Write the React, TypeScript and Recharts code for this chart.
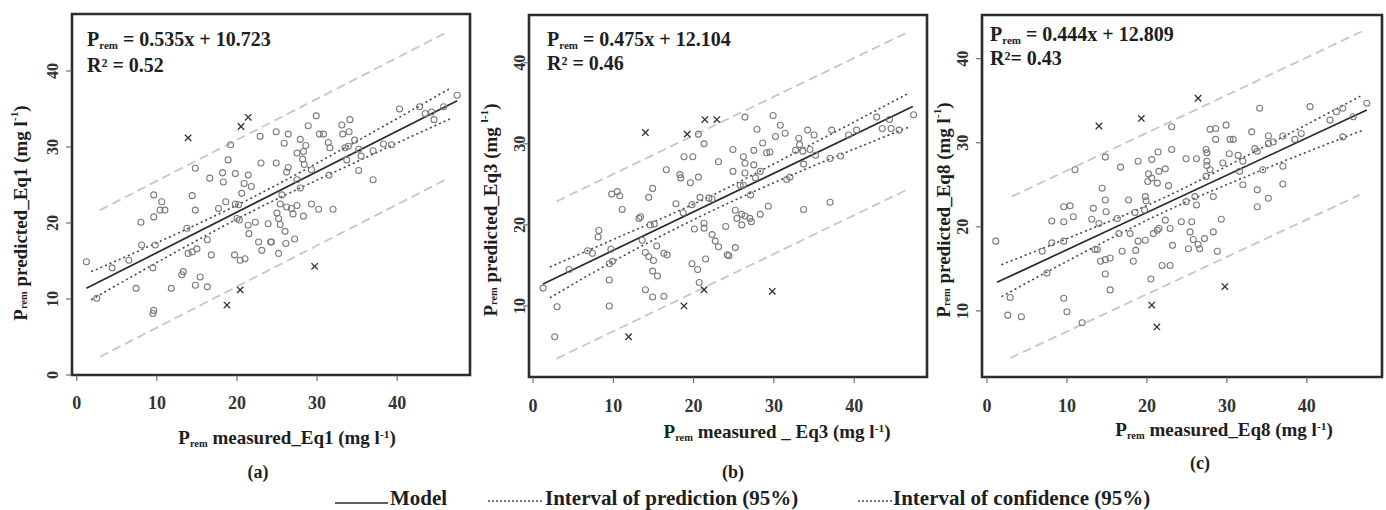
import React from 'react';
import { ComposedChart, Scatter, Line, XAxis, YAxis, ReferenceArea } from 'recharts';

type Pt = [number, number];

const xTicks = [0, 10, 20, 30, 40];
const yTicksA = [0, 10, 20, 30, 40];
const yTicksBC = [10, 20, 30, 40];

// panel (a) Eq1
const circlesA: Pt[] = [
  [1.2, 14.9], [4.4, 14.1], [2.5, 10.1], [6.5, 15.1], [8.1, 17.1], [9.8, 17.1], [9.5, 14.1], [7.4, 11.4],
  [9.5, 8.1], [9.6, 8.5], [8.0, 20.1], [9.6, 20.8], [9.6, 23.7], [10.6, 22.8], [10.4, 21.7], [11.0, 21.7],
  [11.8, 11.4], [13.1, 13.2], [13.3, 13.6], [13.9, 16.0], [14.4, 16.2], [15.0, 16.6], [13.75, 19.3],
  [14.8, 27.2], [14.4, 23.6], [14.8, 21.7], [14.8, 11.8], [16.3, 11.6], [15.4, 12.9], [16.3, 17.8],
  [16.8, 15.8], [16.6, 25.9], [17.7, 21.9], [18.3, 25.4], [18.2, 26.6], [18.9, 28.3], [19.2, 30.3],
  [18.6, 22.8], [19.8, 26.5], [19.8, 22.5], [20.2, 22.4], [20.6, 23.9], [20.0, 20.6], [20.3, 20.4],
  [19.7, 15.8], [20.4, 15.1], [21.0, 15.3], [21.4, 26.3], [20.9, 25.2], [21.8, 24.8], [21.4, 19.7],
  [21.5, 18.6], [22.3, 20.1], [22.7, 17.5], [23.1, 16.4], [23.9, 19.9], [24.2, 17.5], [22.9, 31.4],
  [23.0, 27.9], [24.9, 32.0], [26.4, 31.7], [25.9, 30.5], [27.9, 31.0], [24.9, 27.9], [26.4, 27.3],
  [26.2, 26.7], [27.5, 29.2], [28.3, 29.4], [28.6, 30.2], [28.2, 28.4], [28.4, 27.7], [27.5, 25.7],
  [27.9, 24.6], [29.3, 27.0], [28.9, 32.8], [29.9, 34.1], [30.3, 31.7], [30.8, 31.7], [31.4, 30.6],
  [31.6, 29.9], [31.5, 26.3], [33.1, 32.9], [34.1, 33.6], [33.2, 31.7], [34.0, 32.0], [33.5, 29.9],
  [33.9, 30.1], [34.7, 30.9], [33.7, 28.3], [35.2, 29.7], [35.5, 28.8], [35.2, 26.9], [37.0, 25.7],
  [37.0, 29.5], [38.3, 30.4], [39.3, 30.3], [40.3, 35.0], [42.8, 35.3], [43.5, 34.4], [44.3, 34.6],
  [44.6, 33.6], [45.8, 35.3], [47.5, 36.8], [25.6, 23.7], [25.4, 22.5], [26.2, 22.1], [26.8, 21.9],
  [27.5, 22.3], [25.0, 21.3], [25.2, 20.6], [25.4, 19.8], [27.0, 21.2], [28.3, 20.9], [29.3, 22.5],
  [30.2, 21.8], [32.0, 21.8], [26.0, 18.9], [24.3, 17.5], [26.1, 17.3], [27.2, 17.9], [25.2, 16.0],
];
const crossesA: Pt[] = [[13.9, 31.2], [20.5, 32.7], [21.4, 33.9], [18.75, 9.2], [20.4, 11.2], [29.7, 14.3]];
const modelA: Pt[] = [[1.2, 11.4], [47.5, 36.1]];
const predUpA: Pt[] = [[2.9, 21.7], [46.4, 45.2]];
const predLoA: Pt[] = [[2.9, 2.4], [46.4, 25.9]];
const confUpA: Pt[] = [[1.8, 13.6], [10, 17.4], [22, 23.4], [34, 30.2], [46.6, 37.7]];
const confLoA: Pt[] = [[1.8, 9.9], [10, 14.8], [22, 21.6], [34, 27.6], [46.6, 33.7]];

// panel (b) Eq3
const circlesB: Pt[] = [
  [1.25, 12.2], [3.0, 9.9], [2.7, 6.2], [4.5, 14.5], [6.8, 16.8], [7.4, 16.5], [9.7, 17.0], [8.2, 19.3],
  [8.1, 18.5], [9.9, 15.5], [9.5, 15.2], [9.5, 13.2], [9.5, 10.0], [9.8, 23.8], [10.5, 24.1], [10.8, 23.6],
  [11.1, 21.9], [13.2, 20.8], [13.4, 21.0], [14.4, 23.4], [14.9, 24.5], [13.6, 18.1], [14.6, 20.0],
  [15.1, 20.1], [14.0, 16.6], [14.4, 16.1], [15.0, 15.6], [15.4, 17.4], [14.9, 14.3], [15.5, 13.7],
  [14.0, 12.0], [14.9, 11.1], [16.3, 11.2], [16.3, 16.5], [16.7, 16.3], [16.6, 26.8], [17.8, 22.6],
  [18.3, 26.2], [18.4, 25.8], [18.8, 28.4], [19.9, 28.4], [19.6, 25.2], [20.6, 25.9], [20.6, 31.2],
  [21.3, 30.0], [23.1, 27.8], [18.7, 21.5], [19.8, 22.5], [20.8, 23.4], [21.9, 23.3], [22.3, 23.2],
  [20.1, 19.5], [21.3, 20.2], [21.3, 19.6], [22.3, 18.8], [22.7, 18.0], [23.1, 17.3], [21.5, 15.8],
  [24.0, 19.8], [24.2, 16.3], [19.8, 15.2], [20.5, 14.5], [20.7, 12.9], [26.4, 33.3], [29.9, 33.5],
  [30.8, 32.3], [27.9, 31.8], [24.9, 29.3], [26.2, 28.4], [26.4, 27.6], [27.5, 29.2], [28.6, 30.1],
  [29.1, 28.9], [29.5, 29.0], [30.2, 30.9], [31.4, 31.3], [27.5, 27.4], [24.9, 26.6], [26.4, 26.4],
  [28.3, 26.6], [27.7, 25.8], [25.8, 24.9], [26.2, 24.9], [27.1, 23.7], [33.1, 30.7], [33.2, 29.9],
  [34.2, 31.7], [35.0, 31.1], [32.7, 29.2], [33.6, 29.1], [34.5, 29.3], [35.2, 28.6], [33.7, 27.5],
  [31.6, 25.6], [32.0, 25.9], [37.2, 31.7], [37.0, 28.2], [38.3, 28.5], [39.3, 31.1], [40.3, 31.7],
  [42.8, 33.3], [43.5, 31.9], [44.6, 31.9], [45.6, 31.7], [44.4, 33.0], [47.4, 33.6], [25.2, 21.8],
  [25.4, 20.8], [26.0, 21.3], [26.4, 21.1], [27.0, 20.8], [27.2, 20.4], [26.0, 20.0], [28.3, 21.3],
  [29.3, 22.3], [33.7, 21.9], [37.0, 22.8], [25.2, 17.2], [24.4, 16.2],
];
const crossesB: Pt[] = [[11.9, 6.2], [14.0, 31.4], [19.2, 31.2], [21.4, 33.0], [22.9, 33.0], [21.3, 12.0], [18.8, 10.0], [29.8, 11.8]];
const modelB: Pt[] = [[1.25, 12.7], [47.3, 34.6]];
const predUpB: Pt[] = [[2.95, 22.9], [46.5, 43.7]];
const predLoB: Pt[] = [[2.95, 3.5], [46.5, 24.3]];
const confUpB: Pt[] = [[2.1, 14.8], [10, 18.2], [22, 23.5], [34, 29.6], [46.9, 36.3]];
const confLoB: Pt[] = [[2.1, 11.0], [10, 15.5], [22, 21.6], [34, 26.9], [46.9, 32.1]];

// panel (c) Eq8
const circlesC: Pt[] = [
  [1.1, 18.3], [2.6, 9.5], [4.3, 9.3], [2.9, 11.6], [7.5, 14.5], [6.9, 17.1], [8.1, 18.1], [8.1, 20.7],
  [9.6, 20.6], [9.6, 22.4], [10.4, 22.5], [10.8, 21.2], [9.6, 18.3], [9.6, 11.5], [10.0, 9.9], [11.9, 8.6],
  [11.0, 26.8], [13.1, 20.9], [14.0, 20.4], [13.3, 22.2], [14.4, 24.6], [14.8, 23.2], [14.9, 21.8],
  [14.8, 28.3], [13.5, 17.3], [13.8, 17.3], [14.2, 15.9], [14.8, 16.1], [15.4, 16.3], [14.8, 14.4],
  [15.4, 12.5], [16.3, 21.0], [16.5, 19.2], [16.7, 27.1], [16.9, 17.1], [17.7, 23.2], [18.5, 21.7],
  [17.9, 19.2], [18.6, 17.2], [18.9, 18.3], [18.3, 15.9], [18.9, 27.8], [19.8, 23.6], [19.9, 23.1],
  [19.8, 18.4], [20.1, 25.4], [20.2, 26.3], [20.6, 25.8], [20.6, 28.0], [21.4, 28.9], [21.3, 25.2],
  [21.5, 26.6], [22.3, 26.9], [22.7, 24.9], [23.1, 31.9], [23.1, 29.2], [20.8, 19.2], [21.3, 19.6],
  [21.5, 19.8], [22.3, 20.8], [22.9, 19.8], [23.2, 17.8], [21.9, 15.4], [22.9, 15.4], [20.5, 13.8],
  [19.7, 22.0], [34.1, 34.1], [40.4, 34.3], [27.9, 31.6], [28.6, 31.7], [29.9, 32.1], [33.1, 31.3],
  [28.6, 30.4], [30.4, 30.4], [30.8, 30.4], [35.2, 30.8], [27.4, 29.2], [27.5, 28.8], [24.9, 28.1],
  [26.2, 28.1], [27.5, 27.8], [27.5, 27.3], [29.5, 27.6], [30.3, 28.7], [31.4, 28.5], [32.0, 27.8],
  [33.5, 29.3], [33.8, 29.0], [35.2, 29.9], [35.8, 30.1], [37.0, 30.8], [38.5, 30.4], [39.3, 31.1],
  [42.9, 32.7], [43.7, 33.7], [44.5, 34.1], [47.5, 34.7], [45.8, 33.1], [44.5, 30.7], [27.9, 26.8],
  [31.6, 26.6], [34.5, 26.8], [37.0, 27.2], [27.4, 26.0], [32.0, 25.0], [33.8, 24.4], [37.0, 25.1],
  [35.2, 23.4], [33.8, 22.4], [24.9, 23.0], [26.0, 23.6], [26.2, 22.6], [28.3, 23.6], [24.3, 20.6],
  [25.6, 20.6], [29.3, 20.9], [25.4, 19.4], [28.3, 19.4], [25.8, 18.5], [26.4, 17.9], [26.6, 17.4],
  [27.2, 18.6], [25.2, 17.4], [28.8, 17.1],
];
const crossesC: Pt[] = [[14.0, 32.0], [19.3, 32.9], [20.6, 10.7], [21.25, 8.1], [26.4, 35.3], [29.75, 12.9]];
const modelC: Pt[] = [[1.25, 13.4], [47.5, 33.9]];
const predUpC: Pt[] = [[3.1, 23.6], [47.0, 43.3]];
const predLoC: Pt[] = [[2.9, 4.4], [46.6, 23.8]];
const confUpC: Pt[] = [[1.8, 15.5], [10, 18.6], [22, 23.4], [34, 29.2], [47.0, 35.7]];
const confLoC: Pt[] = [[1.8, 11.7], [10, 15.9], [22, 21.7], [34, 26.6], [47.0, 31.5]];

const toObj = (pts: Pt[]) => pts.map(([x, y]) => ({ x, y }));

const FONT = '"Liberation Serif", "Times New Roman", serif';
const INK = '#1e1e1e';

const panels = [
  {
    key: 'a', left: 0, width: 480, yAxisWidth: 72, right: 10, top: 14, bottom: 15,
    xDomain: [-0.6, 49.1], yDomain: [0, 47.5], yTicks: yTicksA, yTickX: 52, xTickY: 403,
    circles: circlesA, crosses: crossesA, model: modelA, predUp: predUpA, predLo: predLoA, confUp: confUpA, confLo: confLoA,
  },
  {
    key: 'b', left: 480, width: 457, yAxisWidth: 49, right: 10, top: 15, bottom: 13,
    xDomain: [-0.5, 49.07], yDomain: [1.23, 45.9], yTicks: yTicksBC, yTickX: 40, xTickY: 406,
    circles: circlesB, crosses: crossesB, model: modelB, predUp: predUpB, predLo: predLoB, confUp: confUpB, confLo: confLoB,
  },
  {
    key: 'c', left: 937, width: 449, yAxisWidth: 45, right: 4, top: 15, bottom: 13,
    xDomain: [-0.625, 49.4], yDomain: [2.14, 45.2], yTicks: yTicksBC, yTickX: 26, xTickY: 406,
    circles: circlesC, crosses: crossesC, model: modelC, predUp: predUpC, predLo: predLoC, confUp: confUpC, confLo: confLoC,
  },
];

const CircleMark = (props: any) => (
  <circle cx={props.cx} cy={props.cy} r={3} fill="none" stroke="#7c7c7c" strokeWidth={1.1} />
);

const CrossMark = (props: any) => {
  const { cx, cy } = props;
  const s = 3.2;
  return (
    <g stroke="#333" strokeWidth={1.3}>
      <line x1={cx - s} y1={cy - s} x2={cx + s} y2={cy + s} />
      <line x1={cx - s} y1={cy + s} x2={cx + s} y2={cy - s} />
    </g>
  );
};

function Panel({ p }: { p: any }) {
  return (
    <div style={{ position: 'absolute', left: p.left, top: 0 }}>
      <ComposedChart width={p.width} height={420} margin={{ top: p.top, right: p.right, bottom: p.bottom, left: 0 }}>
        <XAxis
          type="number"
          dataKey="x"
          domain={p.xDomain}
          ticks={xTicks}
          interval={0}
          allowDataOverflow
          axisLine={false}
          tickLine={{ stroke: '#555' }}
          tickSize={6}
          height={30}
          tick={(t: any) => (
            <text x={t.x} y={p.xTickY} textAnchor="middle" dominantBaseline="central"
              fontFamily={FONT} fontWeight="bold" fontSize={18} fill="#333">
              {t.payload.value}
            </text>
          )}
        />
        <YAxis
          type="number"
          dataKey="y"
          domain={p.yDomain}
          ticks={p.yTicks}
          interval={0}
          allowDataOverflow
          axisLine={false}
          tickLine={{ stroke: '#555' }}
          tickSize={6}
          width={p.yAxisWidth}
          tick={(t: any) => (
            <text x={p.yTickX} y={t.y} transform={`rotate(-90 ${p.yTickX} ${t.y})`} textAnchor="middle"
              dominantBaseline="central" fontFamily={FONT} fontWeight="bold" fontSize={16} fill="#333">
              {t.payload.value}
            </text>
          )}
        />
        <Line data={toObj(p.predUp)} dataKey="y" type="linear" stroke="#c6c6c6" strokeWidth={1.8}
          strokeDasharray="9 5" dot={false} activeDot={false} isAnimationActive={false} />
        <Line data={toObj(p.predLo)} dataKey="y" type="linear" stroke="#c6c6c6" strokeWidth={1.8}
          strokeDasharray="9 5" dot={false} activeDot={false} isAnimationActive={false} />
        <Scatter data={toObj(p.circles)} dataKey="y" shape={CircleMark} isAnimationActive={false} />
        <Scatter data={toObj(p.crosses)} dataKey="y" shape={CrossMark} isAnimationActive={false} />
        <Line data={toObj(p.model)} dataKey="y" type="linear" stroke="#2a2a2a" strokeWidth={1.7}
          dot={false} activeDot={false} isAnimationActive={false} />
        <Line data={toObj(p.confUp)} dataKey="y" type="monotone" stroke="#444" strokeWidth={1.6}
          strokeDasharray="2 3" dot={false} activeDot={false} isAnimationActive={false} />
        <Line data={toObj(p.confLo)} dataKey="y" type="monotone" stroke="#444" strokeWidth={1.6}
          strokeDasharray="2 3" dot={false} activeDot={false} isAnimationActive={false} />
        <ReferenceArea x1={p.xDomain[0]} x2={p.xDomain[1]} y1={p.yDomain[0]} y2={p.yDomain[1]}
          fill="none" stroke="#2b2b2b" strokeWidth={2.6} ifOverflow="visible" />
      </ComposedChart>
    </div>
  );
}

const Sub = ({ children }: { children: React.ReactNode }) => (
  <tspan baselineShift="-3" fontSize="0.55em">{children}</tspan>
);
const Sup = ({ children }: { children: React.ReactNode }) => (
  <tspan baselineShift="super" fontSize="0.6em">{children}</tspan>
);

export default function App() {
  const t = { fontFamily: FONT, fontWeight: 'bold' as const, fill: INK };
  return (
    <div style={{ position: 'absolute', left: 0, top: 0, width: 1386, height: 510, background: '#fff', overflow: 'hidden' }}>
      {panels.map((p) => (
        <Panel key={p.key} p={p} />
      ))}
      <svg width={1386} height={510} style={{ position: 'absolute', left: 0, top: 0, pointerEvents: 'none' }}>
        {/* equations */}
        <text x={87} y={46} fontSize={20} {...t}>P<Sub>rem</Sub> = 0.535x + 10.723</text>
        <text x={87} y={72} fontSize={20} {...t}>R² = 0.52</text>
        <text x={547} y={46} fontSize={20} {...t}>P<Sub>rem</Sub> = 0.475x + 12.104</text>
        <text x={547} y={70} fontSize={20} {...t}>R²  =  0.46</text>
        <text x={990} y={41} fontSize={20} {...t}>P<Sub>rem</Sub> = 0.444x + 12.809</text>
        <text x={990} y={65} fontSize={20} {...t}>R²=  0.43</text>

        {/* x axis titles */}
        <text x={287} y={444} fontSize={19} textAnchor="middle" {...t}>P<Sub>rem</Sub> measured_Eq1 (mg l<Sup>-1</Sup>)</text>
        <text x={777} y={438} fontSize={19} textAnchor="middle" {...t}>P<Sub>rem</Sub> measured _ Eq3 (mg l<Sup>-1</Sup>)</text>
        <text x={1224} y={436} fontSize={19} textAnchor="middle" {...t}>P<Sub>rem</Sub> measured_Eq8 (mg l<Sup>-1</Sup>)</text>

        {/* y axis titles */}
        <text x={20} y={213} transform="rotate(-90 20 213)" fontSize={19} textAnchor="middle" dominantBaseline="central" {...t}>
          P<Sub>rem</Sub> predicted_Eq1 (mg l<Sup>-1</Sup>)
        </text>
        <text x={490} y={210} transform="rotate(-90 490 210)" fontSize={19} textAnchor="middle" dominantBaseline="central" {...t}>
          P<Sub>rem</Sub> predicted_Eq3 (mg <Sup>l-1</Sup>)
        </text>
        <text x={943} y={210} transform="rotate(-90 943 210)" fontSize={19} textAnchor="middle" dominantBaseline="central" {...t}>
          P<Sub>rem</Sub> predicted_Eq8 (mg l<Sup>-1</Sup>)
        </text>

        {/* panel letters */}
        <text x={258} y={472} fontSize={18} textAnchor="middle" dominantBaseline="central" {...t}>(a)</text>
        <text x={733} y={472} fontSize={18} textAnchor="middle" dominantBaseline="central" {...t}>(b)</text>
        <text x={1200} y={463} fontSize={18} textAnchor="middle" dominantBaseline="central" {...t}>(c)</text>

        {/* legend */}
        <line x1={335} y1={503} x2={388} y2={503} stroke="#2a2a2a" strokeWidth={1.7} />
        <text x={390} y={505} fontSize={21} {...t}>Model</text>
        <line x1={488} y1={501} x2={543} y2={501} stroke="#444" strokeWidth={1.4} strokeDasharray="2 2" />
        <text x={545} y={505} fontSize={21} {...t}>Interval of prediction (95%)</text>
        <line x1={858} y1={501} x2={893} y2={501} stroke="#444" strokeWidth={1.4} strokeDasharray="2 2" />
        <text x={893} y={505} fontSize={21} {...t}>Interval of confidence (95%)</text>
      </svg>
    </div>
  );
}
